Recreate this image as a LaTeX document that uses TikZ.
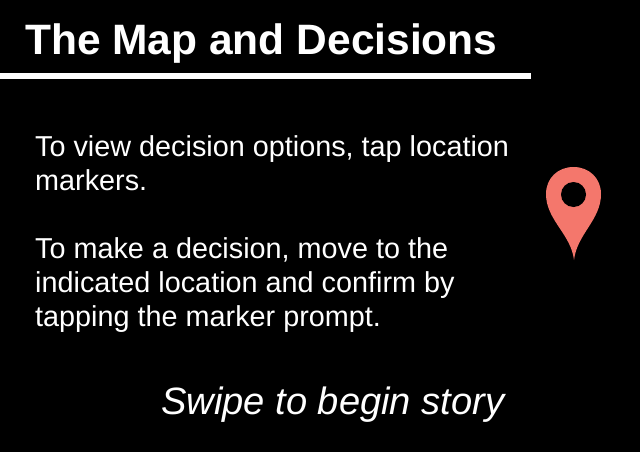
\documentclass[tikz,border=0pt]{standalone}
\usepackage{fontspec}
\setmainfont{Liberation Sans}
\usetikzlibrary{backgrounds}

\definecolor{markerred}{HTML}{F4776C}

\tikzset{
  bodytext/.style={anchor=base west,inner sep=0pt,text=white,font=\fontsize{28.8}{34}\selectfont},
  titletext/.style={anchor=base west,inner sep=0pt,text=white,font=\fontsize{42.5}{46}\selectfont\bfseries},
  swipetext/.style={anchor=base west,inner sep=0pt,text=white,font=\fontsize{38.1}{42}\selectfont\itshape}
}

\begin{document}
\begin{tikzpicture}[x=1pt,y=-1pt]

\fill[black] (0,0) rectangle (640,452);
\useasboundingbox (0,0) rectangle (640,452);

\node[titletext] (title) at (25,55) {The Map and Decisions};
\coordinate (ruleleft) at (0,76);
\coordinate (ruleright) at (531,76);
\draw[white,line width=6pt] (ruleleft) -- (ruleright);

\node[bodytext] (lineA) at (35,156) {To view decision options, tap location};
\node[bodytext] (lineB) at (35,190) {markers.};
\node[bodytext] (lineC) at (35,258) {To make a decision, move to the};
\node[bodytext] (lineD) at (35,292) {indicated location and confirm by};
\node[bodytext] (lineE) at (35,326) {tapping the marker prompt.};

\node[swipetext] (swipe) at (161,414) {Swipe to begin story};

% marker
\fill[markerred] (574,260) .. controls (571,234) and (546,220) .. (546,194)
  .. controls (546,178) and (558,167) .. (573.5,167)
  .. controls (589,167) and (601,178) .. (601,194)
  .. controls (601,220) and (577,234) .. (574,260) -- cycle;
\fill[black] (573.5,194.5) circle (12.5);

\end{tikzpicture}
\end{document}
